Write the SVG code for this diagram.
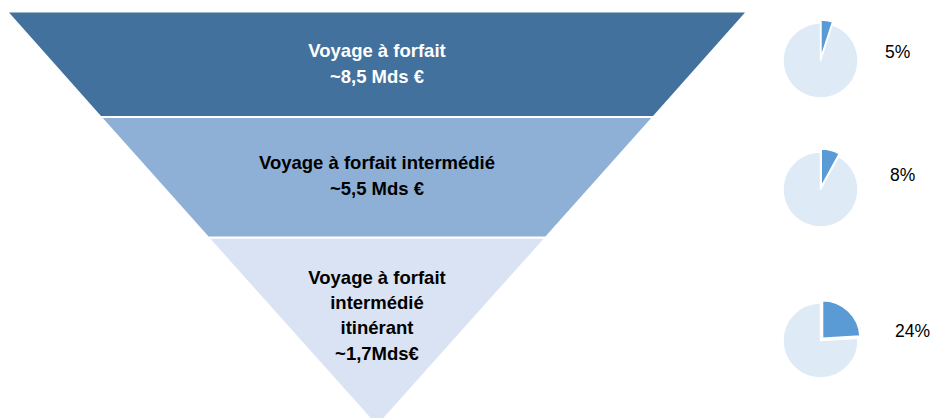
<svg xmlns="http://www.w3.org/2000/svg" width="934" height="418" viewBox="0 0 934 418">
<style>
.lbl{font-family:"Liberation Sans",Arial,sans-serif;font-weight:bold;font-size:18.5px;text-anchor:middle}
.pct{font-family:"Liberation Sans",Arial,sans-serif;font-size:17.5px;fill:#000}
.pl{fill:#DEEAF6;stroke:#fff;stroke-width:1.5;stroke-linejoin:round}
.ps{fill:#5B9BD5;stroke:#fff;stroke-width:1.5;stroke-linejoin:round}
</style>
<rect width="934" height="418" fill="#fff"/>
<g id="band1">
<polygon points="9,12.5 745,12.5 653,116 101,116" fill="#41719C"/>
<text class="lbl" x="377" y="57" fill="#fff">Voyage à forfait</text>
<text class="lbl" x="377" y="83" fill="#fff">~8,5 Mds €</text>
</g>
<g id="band2">
<polygon points="102.8,118 651.2,118 545.4,236.5 208.6,236.5" fill="#8EB0D6"/>
<text class="lbl" x="377" y="169" fill="#000">Voyage à forfait intermédié</text>
<text class="lbl" x="377" y="195" fill="#000">~5,5 Mds €</text>
</g>
<g id="band3">
<polygon points="210.4,238.8 543.6,238.8 377,425" fill="#DAE3F3"/>
<text class="lbl" x="377" y="284" fill="#000">Voyage à forfait</text>
<text class="lbl" x="377" y="309" fill="#000">intermédié</text>
<text class="lbl" x="377" y="334" fill="#000">itinérant</text>
<text class="lbl" x="377" y="360" fill="#000">~1,7Mds€</text>
</g>
<g id="pie1">
<path class="pl" d="M820.5,60.5 L832.09,24.83 A37.5,37.5 0 1 1 820.5,23 Z"/>
<path class="ps" transform="translate(0.47,-2.96)" d="M820.5,60.5 L820.5,23 A37.5,37.5 0 0 1 832.09,24.83 Z"/>
<text class="pct" x="885" y="58">5%</text>
</g>
<g id="pie2">
<path class="pl" d="M820.5,189.5 L838.57,156.64 A37.5,37.5 0 1 1 820.5,152 Z"/>
<path class="ps" transform="translate(0.75,-2.91)" d="M820.5,189.5 L820.5,152 A37.5,37.5 0 0 1 838.57,156.64 Z"/>
<text class="pct" x="890" y="181">8%</text>
</g>
<g id="pie3">
<path class="pl" d="M820.5,340.5 L857.93,338.15 A37.5,37.5 0 1 1 820.5,303 Z"/>
<path class="ps" transform="translate(2.05,-2.19)" d="M820.5,340.5 L820.5,303 A37.5,37.5 0 0 1 857.93,338.15 Z"/>
<text class="pct" x="895" y="337">24%</text>
</g>
<g id="connectors"/>
</svg>
